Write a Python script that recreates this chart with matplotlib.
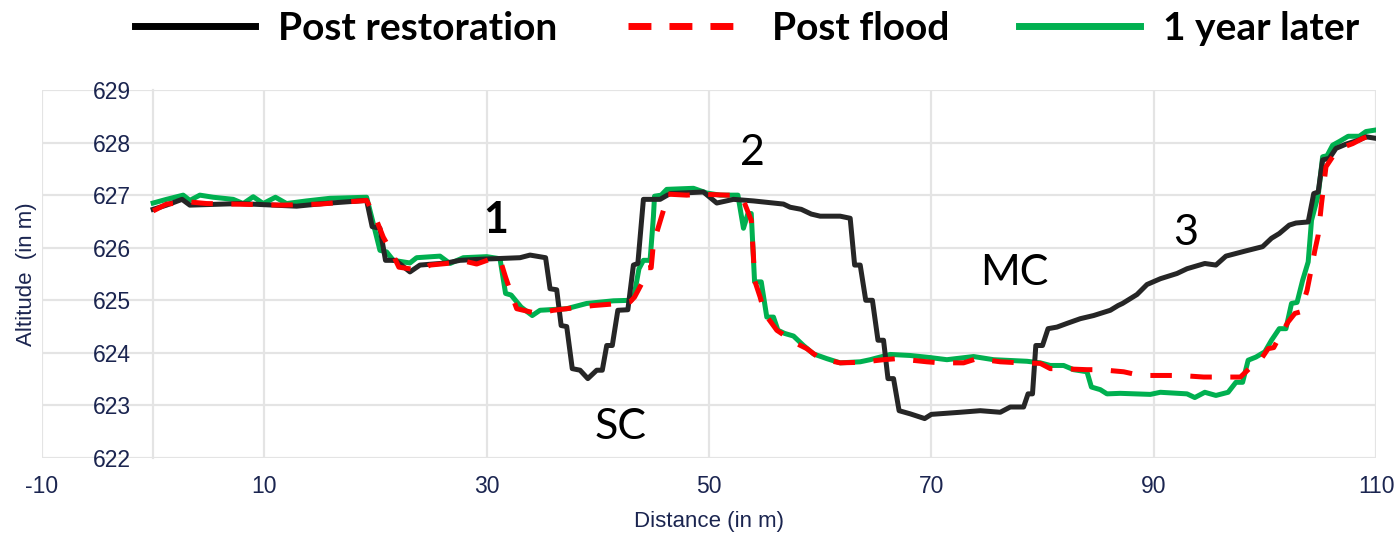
import matplotlib
matplotlib.use("Agg")
import matplotlib.pyplot as plt
from matplotlib.lines import Line2D

plt.rcParams["axes.unicode_minus"] = False

# profils : (distance en m, altitude en m)
post_restoration = [
    (0, 626.73), (1.2, 626.81), (2.6, 626.92), (3.3, 626.81), (7.8, 626.84), (12.9, 626.79),
    (15.3, 626.84), (19.2, 626.90), (19.7, 626.40), (20.4, 626.37), (20.9, 625.76), (21.8, 625.76),
    (23.1, 625.54), (24.0, 625.67), (26.4, 625.71), (27.6, 625.76), (29.4, 625.78), (33.0, 625.81),
    (33.9, 625.86), (35.3, 625.81), (35.7, 625.22), (36.3, 625.20), (36.7, 624.52), (37.2, 624.50),
    (37.7, 623.70), (38.4, 623.67), (39.1, 623.51), (39.9, 623.67), (40.4, 623.67), (40.8, 624.14),
    (41.3, 624.14), (41.8, 624.81), (42.7, 624.82), (43.2, 625.67), (43.6, 625.70), (44.1, 626.92),
    (45.6, 626.92), (46.5, 627.03), (49.5, 627.06), (50.7, 626.85), (52.2, 626.92), (54.0, 626.89),
    (56.7, 626.83), (57.3, 626.77), (58.3, 626.73), (59.2, 626.64), (60.0, 626.60), (61.8, 626.60),
    (62.7, 626.56), (63.1, 625.67), (63.6, 625.67), (64.1, 625.00), (64.7, 625.00), (65.2, 624.24),
    (65.7, 624.24), (66.1, 623.51), (66.6, 623.51), (67.1, 622.90), (68.1, 622.84), (69.4, 622.75),
    (70.0, 622.83), (72.6, 622.87), (74.4, 622.90), (76.2, 622.87), (77.1, 622.97), (78.3, 622.97),
    (78.7, 623.22), (79.1, 623.22), (79.4, 624.14), (80.0, 624.14), (80.5, 624.46), (81.3, 624.49),
    (82.2, 624.56), (83.4, 624.65), (84.6, 624.71), (86.1, 624.81), (86.8, 624.90), (87.2, 624.94),
    (88.5, 625.11), (89.4, 625.30), (90.6, 625.41), (92.1, 625.51), (93.0, 625.60), (94.6, 625.70),
    (95.6, 625.67), (96.5, 625.84), (98.3, 625.94), (99.8, 626.02), (100.6, 626.18), (101.3, 626.27),
    (102.2, 626.43), (102.8, 626.47), (103.9, 626.49), (104.4, 627.03), (104.8, 627.06), (105.2, 627.67),
    (105.8, 627.70), (106.4, 627.89), (107.3, 627.97), (108.5, 628.05), (109.1, 628.11), (110.0, 628.08),
]

post_flood = [
    (0, 626.70), (1.2, 626.83), (3.3, 626.87), (4.8, 626.84), (7.2, 626.83), (11.7, 626.81),
    (15.0, 626.83), (19.2, 626.90), (20.1, 626.52), (20.7, 626.20), (21.5, 625.90), (22.1, 625.63),
    (24.0, 625.57), (24.9, 625.67), (26.4, 625.70), (27.9, 625.75), (29.1, 625.69), (30.3, 625.78),
    (31.2, 625.78), (31.7, 625.44), (32.2, 625.13), (32.7, 624.84), (34.5, 624.75), (36.0, 624.81),
    (39.6, 624.90), (42.0, 624.94), (42.9, 624.97), (43.3, 625.06), (44.1, 625.38), (44.5, 625.62),
    (44.8, 625.62), (45.0, 626.08), (45.9, 626.71), (46.2, 627.02), (48.0, 627.00), (49.2, 627.02),
    (51.6, 627.00), (52.6, 627.00), (53.1, 626.90), (53.8, 626.52), (54.0, 625.83), (54.1, 625.38),
    (54.6, 625.06), (55.0, 624.75), (56.1, 624.43), (56.8, 624.33), (57.3, 624.24), (58.8, 624.08),
    (60.0, 623.89), (61.8, 623.81), (63.6, 623.82), (65.7, 623.87), (66.9, 623.89), (69.6, 623.83),
    (70.8, 623.81), (72.9, 623.81), (74.1, 623.89), (76.2, 623.83), (78.0, 623.81), (79.8, 623.80),
    (80.7, 623.70), (81.6, 623.70), (84.0, 623.68), (85.2, 623.68), (87.3, 623.64), (88.8, 623.57),
    (92.4, 623.57), (94.5, 623.54), (97.8, 623.54), (98.6, 623.70), (99.4, 623.80), (100.3, 624.08),
    (100.8, 624.10), (101.3, 624.30), (102.1, 624.59), (102.7, 624.75), (103.2, 624.78), (103.8, 625.19),
    (104.1, 625.51), (104.5, 625.95), (104.8, 626.24), (105.1, 626.84), (105.5, 627.54), (106.1, 627.73),
    (107.0, 627.91), (107.9, 627.98), (108.8, 628.08), (109.6, 628.14),
]

one_year_later = [
    (0, 626.85), (1.2, 626.92), (2.7, 627.00), (3.3, 626.90), (4.2, 627.00), (5.4, 626.96),
    (7.2, 626.92), (8.1, 626.84), (9.0, 626.97), (9.9, 626.84), (11.0, 626.96), (12.0, 626.84),
    (13.8, 626.89), (15.9, 626.94), (19.2, 626.96), (19.8, 626.46), (20.4, 625.95), (21.0, 625.92),
    (21.6, 625.76), (23.1, 625.71), (23.7, 625.81), (25.8, 625.84), (26.7, 625.70), (27.9, 625.81),
    (30.0, 625.83), (31.2, 625.79), (31.7, 625.13), (32.2, 625.10), (33.1, 624.87), (34.1, 624.71),
    (34.8, 624.81), (37.2, 624.84), (39.0, 624.94), (41.4, 624.99), (43.0, 625.00), (43.3, 625.13),
    (43.7, 625.60), (44.1, 625.76), (44.7, 625.76), (45.0, 626.59), (45.1, 626.98), (45.7, 627.00),
    (46.2, 627.11), (48.6, 627.13), (49.8, 627.04), (51.0, 627.00), (52.6, 627.00), (53.1, 626.37),
    (53.5, 626.65), (53.8, 626.65), (54.1, 625.35), (54.7, 625.35), (55.2, 624.68), (55.8, 624.68),
    (56.2, 624.43), (56.8, 624.37), (57.6, 624.32), (58.5, 624.14), (59.4, 623.98), (60.6, 623.89),
    (61.8, 623.81), (63.6, 623.83), (64.5, 623.87), (66.3, 623.97), (68.1, 623.95), (69.9, 623.91),
    (71.4, 623.87), (73.8, 623.93), (75.6, 623.87), (78.6, 623.84), (79.8, 623.81), (80.7, 623.76),
    (81.9, 623.76), (82.8, 623.68), (84.0, 623.64), (84.4, 623.35), (85.2, 623.30), (85.8, 623.22),
    (87.0, 623.23), (89.7, 623.21), (90.6, 623.25), (93.0, 623.22), (93.7, 623.15), (94.6, 623.25),
    (95.6, 623.19), (96.7, 623.25), (97.4, 623.44), (98.0, 623.44), (98.5, 623.86), (99.2, 623.92),
    (100.0, 624.02), (100.6, 624.24), (101.3, 624.46), (101.9, 624.46), (102.4, 624.94), (102.9, 624.96),
    (103.4, 625.38), (103.9, 625.73), (104.2, 626.52), (104.8, 627.00), (105.2, 627.73), (105.6, 627.75),
    (106.1, 627.95), (106.7, 628.02), (107.5, 628.12), (108.5, 628.12), (109.1, 628.21), (110.0, 628.24),
]

# étiquettes : (texte, distance, altitude de la ligne de base, gras)
labels = [
    ("1", 30.85, 626.28, True),
    ("2", 53.9, 627.57, False),
    ("SC", 42.0, 622.37, False),
    ("MC", 77.5, 625.29, False),
    ("3", 92.9, 626.05, False),
]

navy = "#1b2550"
grid_col = "#e4e4e4"

fig = plt.figure(figsize=(13.96, 5.36), dpi=100)
ax = fig.add_axes([42 / 1396, 1 - 458 / 536, 1334 / 1396, 368 / 536])

x, y = zip(*one_year_later)
ax.plot(x, y, color="#00b050", lw=3.6, solid_joinstyle="round", zorder=3)
x, y = zip(*post_restoration)
ax.plot(x, y, color="#262626", lw=3.6, solid_joinstyle="round", zorder=4)
x, y = zip(*post_flood)
ax.plot(x, y, color="#ff0000", lw=3.6, dashes=(4.3, 3.7), zorder=5)

for txt, xd, yd, bold in labels:
    ax.text(xd, yd, txt, fontsize=31, family="Lato", ha="center", va="baseline",
            fontweight="bold" if bold else "normal", color="black", zorder=6)

ax.set_xlim(-10, 110)
ax.set_ylim(622, 629)
ax.set_xticks(range(-10, 111, 20))
ax.set_yticks(range(622, 630))
ax.grid(True, color=grid_col, lw=1.6, zorder=0)
ax.set_axisbelow(True)

for side in ["top", "right", "bottom"]:
    ax.spines[side].set_visible(False)
ax.spines["left"].set_position(("data", 0))
ax.spines["left"].set_color(grid_col)
ax.spines["left"].set_linewidth(1.6)

ax.tick_params(axis="both", length=0, labelsize=16.5, labelcolor=navy)
ax.tick_params(axis="y", pad=16)
ax.tick_params(axis="x", pad=12)
for lab in ax.get_xticklabels() + ax.get_yticklabels():
    lab.set_family("Liberation Sans")

ax.set_xlabel("Distance (in m)", fontsize=16, color=navy, family="Liberation Sans")
ax.set_ylabel("Altitude  (in m)", fontsize=16, color=navy, family="Liberation Sans")
ax.xaxis.set_label_coords(0.5, -0.145)
ax.yaxis.set_label_coords(-0.004, 0.5)

handles = [
    Line2D([], [], color="#000000", lw=5),
    Line2D([], [], color="#ff0000", lw=5, dashes=(3.3, 2.6)),
    Line2D([], [], color="#00b050", lw=5),
]
fig.legend(handles, ["Post restoration", "Post flood", "1 year later"],
           loc="upper center", bbox_to_anchor=(0.535, 1.045), ncol=3, frameon=False,
           prop={"family": "Lato", "weight": "bold", "size": 28},
           handlelength=3.1, handletextpad=0.6, columnspacing=1.8)

fig.savefig("out.png", dpi=100)
